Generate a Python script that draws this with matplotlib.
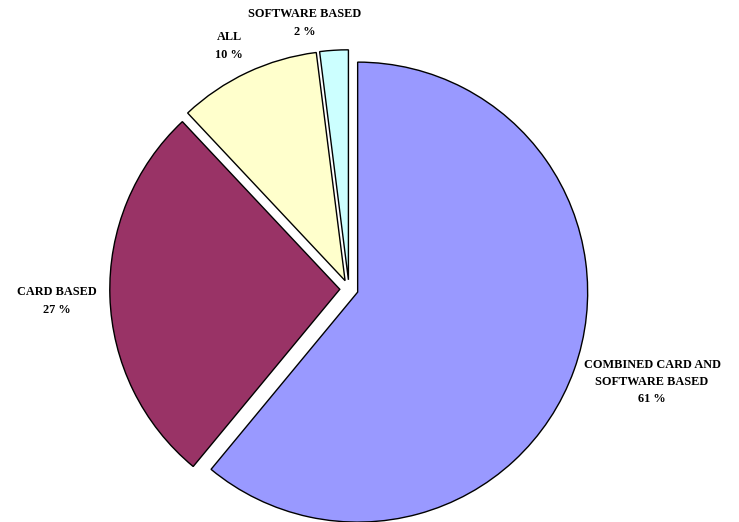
import matplotlib
matplotlib.use('Agg')
import matplotlib.pyplot as plt

# slice data (clockwise from 12 o'clock)
categories = ['COMBINED CARD AND\nSOFTWARE BASED', 'CARD BASED', 'ALL', 'SOFTWARE BASED']
shares = [61, 27, 10, 2]
colors = ['#9999FF', '#993366', '#FFFFCC', '#CCFFFF']

plt.rcParams['font.family'] = ['Liberation Serif', 'DejaVu Serif']

fig = plt.figure(figsize=(7.39, 5.22), dpi=100)
ax = fig.add_axes([0, 0, 1, 1])

ax.pie(shares, colors=colors, startangle=90, counterclock=False,
       explode=[0.04] * len(shares),
       wedgeprops=dict(edgecolor='black', linewidth=1.0))

# map pie units to pixels: radius 1 = 230 px, centre at (349, 289) from top-left
r = 230.0
cx, cy = 349.0, 289.0
ax.set_xlim(-cx / r, (739 - cx) / r)
ax.set_ylim(-(522 - cy) / r, cy / r)
ax.set_aspect('auto')
ax.axis('off')

# label positions in pixel coords (centre of text block)
label_pos = [(652, 382), (57, 301), (229, 46), (305, 23)]
for name, val, (px, py) in zip(categories, shares, label_pos):
    fig.text(px / 739, 1 - py / 522, f'{name}\n{val} %', ha='center', va='center',
             fontsize=8.8, fontweight='bold', linespacing=1.6)

fig.savefig('out.png', dpi=100)
